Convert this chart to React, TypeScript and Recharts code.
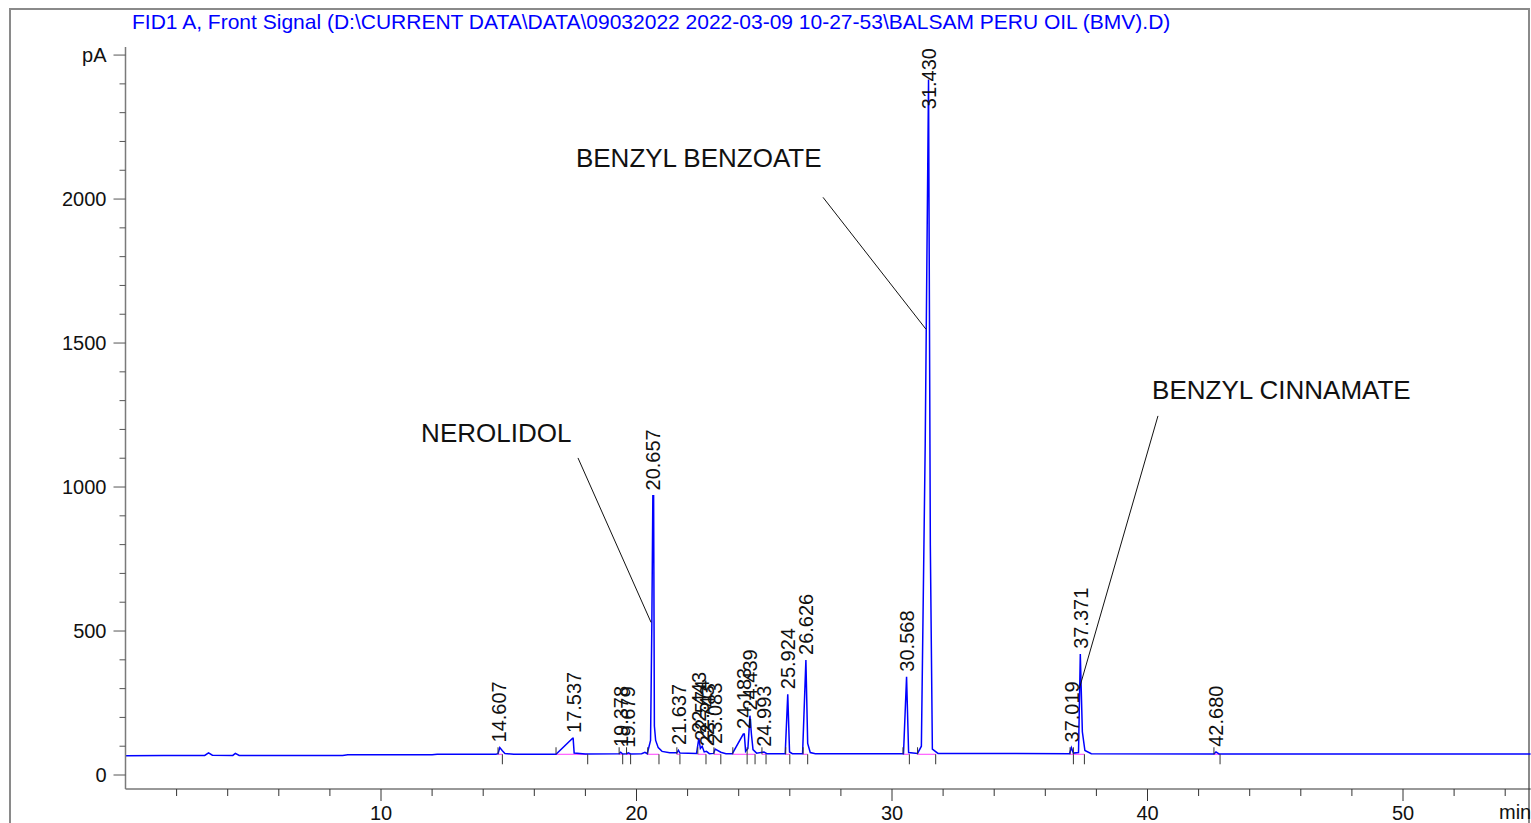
import { ComposedChart, Line, Scatter, XAxis, YAxis, ReferenceLine } from "recharts"

const FONT = '"Liberation Sans", Arial, Helvetica, sans-serif'

// FID signal: [time (min), signal (pA)]
const trace: [number, number][] = [
  [0, 67], [1.5, 68], [3.1, 68], [3.25, 77], [3.4, 69], [4.2, 68], [4.3, 75], [4.45, 68],
  [6.0, 68], [8.5, 68], [8.7, 70], [12.0, 70], [12.2, 72], [14.5, 72],
  [14.58, 74], [14.65, 95], [14.75, 84], [14.85, 75], [15.2, 72],
  [16.85, 72], [17.5, 128], [17.52, 128], [17.56, 76], [18.0, 73],
  [19.32, 74], [19.38, 79], [19.46, 73], [19.62, 74], [19.68, 77], [19.77, 73],
  [20.2, 74], [20.33, 79], [20.42, 74], [20.55, 120], [20.6, 520], [20.64, 970], [20.67, 970],
  [20.7, 170], [20.75, 120], [20.85, 95], [21.0, 82], [21.3, 77],
  [21.58, 77], [21.64, 86], [21.7, 76], [22.35, 75],
  [22.44, 128], [22.5, 92], [22.57, 100], [22.65, 80], [22.74, 82], [22.85, 74],
  [23.02, 75], [23.08, 90], [23.3, 79], [23.5, 74],
  [23.75, 74], [24.18, 142], [24.22, 142], [24.27, 82], [24.36, 92], [24.44, 206], [24.5, 140],
  [24.56, 88], [24.7, 76], [24.99, 80], [25.1, 74],
  [25.82, 74], [25.92, 280], [25.99, 80], [26.1, 74],
  [26.5, 74], [26.63, 399], [26.7, 110], [26.8, 78], [27.0, 74],
  [30.45, 74], [30.57, 341], [30.65, 78], [31.0, 75],
  [31.15, 100], [31.3, 1150], [31.43, 2415], [31.5, 800], [31.58, 90], [31.8, 75],
  [36.95, 74], [37.02, 95], [37.1, 76], [37.3, 78],
  [37.37, 420], [37.45, 150], [37.55, 85], [37.8, 74],
  [42.6, 73], [42.68, 80], [42.8, 73], [55, 73],
]

const peakTimes = [
  14.607, 17.537, 19.378, 19.679, 20.657, 21.637, 22.443, 22.574, 22.743, 23.083,
  24.183, 24.439, 24.993, 25.924, 26.626, 30.568, 31.43, 37.019, 37.371, 42.68,
]
const peakNames = [
  "14.607", "17.537", "19.378", "19.679", "20.657", "21.637", "22.443", "22.574", "22.743", "23.083",
  "24.183", "24.439", "24.993", "25.924", "26.626", "30.568", "31.430", "37.019", "37.371", "42.680",
]
const peakHeights = [95, 128, 79, 77, 970, 86, 128, 100, 82, 90, 142, 206, 80, 280, 399, 341, 2415, 95, 420, 80]

// integration marks (start / end of each peak)
const integrationStarts = [14.58, 16.85, 19.32, 19.61, 20.44, 21.58, 22.4, 23.03, 23.77, 24.33, 24.91, 25.84, 26.52, 30.43, 31.0, 36.97, 37.1, 42.6]
const integrationEnds = [14.75, 18.09, 19.46, 19.77, 20.88, 21.7, 22.72, 23.3, 24.33, 24.64, 25.07, 26.0, 26.7, 30.68, 31.71, 37.1, 37.53, 42.84]
const baselinePA = 72

const compounds = ["NEROLIDOL", "BENZYL BENZOATE", "BENZYL CINNAMATE"]
const compoundTextAt = [[11.57, 1188], [17.63, 2144], [40.18, 1337]]
const leaderFrom = [[17.71, 1101], [27.3, 2006], [40.41, 1247]]
const leaderTo = [[20.57, 530], [31.33, 1548], [37.33, 300]]

const xTicks = [2, 4, 6, 8, 10, 12, 14, 16, 18, 20, 22, 24, 26, 28, 30, 32, 34, 36, 38, 40, 42, 44, 46, 48, 50, 52, 54]
const yTicks = [0, 100, 200, 300, 400, 500, 600, 700, 800, 900, 1000, 1100, 1200, 1300, 1400, 1500, 1600, 1700, 1800, 1900, 2000, 2100, 2200, 2300, 2400, 2500]

const signalData = trace.map(([t, v]) => ({ t, v }))
const labelData = peakTimes.map((t, i) => ({ t, v: Math.min(peakHeights[i] + 18, 2312), name: peakNames[i] }))
const startData = integrationStarts.map((t) => ({ t, v: baselinePA }))
const endData = integrationEnds.map((t) => ({ t, v: baselinePA }))
const compoundData = compounds.map((name, i) => ({ t: compoundTextAt[i][0], v: compoundTextAt[i][1], name }))

function XTick({ x, y, payload }: any) {
  const major = payload.value % 10 === 0
  return (
    <g>
      <line x1={x} y1={y} x2={x} y2={y + (major ? 12 : 7)} stroke="#333" strokeWidth={1} />
      {major && (
        <text x={x} y={y + 31} textAnchor="middle" fontSize={20} fontFamily={FONT} fill="#111">
          {payload.value}
        </text>
      )}
    </g>
  )
}

function YTick({ x, y, payload }: any) {
  const major = payload.value % 500 === 0
  const label = payload.value === 2500 ? "pA" : String(payload.value)
  return (
    <g>
      <line x1={x - (major ? 12 : 6)} y1={y} x2={x} y2={y} stroke="#555" strokeWidth={1} />
      {major && (
        <text x={x - 19} y={y + 7} textAnchor="end" fontSize={20} fontFamily={FONT} fill="#111">
          {label}
        </text>
      )}
    </g>
  )
}

function PeakLabel({ cx, cy, payload }: any) {
  return (
    <text
      x={cx}
      y={cy}
      dy="0.36em"
      transform={`rotate(-90 ${cx} ${cy})`}
      fontSize={20}
      fontFamily={FONT}
      fill="#111"
    >
      {payload.name}
    </text>
  )
}

function StartMark({ cx, cy }: any) {
  return <line x1={cx} y1={cy} x2={cx} y2={cy - 7} stroke="#333" strokeWidth={1} />
}

function EndMark({ cx, cy }: any) {
  return <line x1={cx} y1={cy} x2={cx} y2={cy + 10} stroke="#333" strokeWidth={1} />
}

function CompoundText({ cx, cy, payload }: any) {
  return (
    <text x={cx} y={cy} dy="0.36em" fontSize={26} fontFamily={FONT} fill="#111">
      {payload.name}
    </text>
  )
}

export default function App() {
  return (
    <div style={{ position: "fixed", left: 0, top: 0, width: 1531, height: 823, overflow: "hidden", background: "#fff" }}>
      <div
        style={{
          position: "absolute",
          left: 9,
          top: 8,
          width: 1521,
          height: 900,
          border: "2px solid #8a8a8a",
          boxSizing: "border-box",
        }}
      />
      <div
        style={{
          position: "absolute",
          left: 132,
          top: 10,
          fontFamily: FONT,
          fontSize: 21,
          lineHeight: "24px",
          color: "#0000ff",
          whiteSpace: "nowrap",
        }}
      >
        FID1 A, Front Signal (D:\CURRENT DATA\DATA\09032022 2022-03-09 10-27-53\BALSAM PERU OIL (BMV).D)
      </div>
      <div style={{ position: "absolute", left: 0, top: 0 }}>
        <ComposedChart width={1531} height={823} margin={{ top: 47, right: 0.25, bottom: 0, left: 0.5 }}>
          <XAxis
            type="number"
            dataKey="t"
            domain={[0, 55]}
            allowDataOverflow
            ticks={xTicks}
            interval={0}
            tick={<XTick />}
            tickLine={false}
            tickSize={0}
            tickMargin={0}
            height={34}
            axisLine={{ stroke: "#333", strokeWidth: 1 }}
          />
          <YAxis
            type="number"
            dataKey="v"
            domain={[-48.6, 2528]}
            allowDataOverflow
            ticks={yTicks}
            interval={0}
            tick={<YTick />}
            tickLine={false}
            tickSize={0}
            tickMargin={0}
            width={125}
            axisLine={{ stroke: "#7a7a7a", strokeWidth: 1.5 }}
          />
          {integrationStarts.map((s, i) => (
            <ReferenceLine
              key={`base-${i}`}
              segment={[
                { x: s, y: baselinePA },
                { x: integrationEnds[i], y: baselinePA },
              ]}
              stroke="#ff3cff"
              strokeWidth={1}
            />
          ))}
          <Line
            data={signalData}
            dataKey="v"
            type="linear"
            stroke="#0000ff"
            strokeWidth={1.5}
            dot={false}
            isAnimationActive={false}
          />
          {compounds.map((c, i) => (
            <ReferenceLine
              key={c}
              segment={[
                { x: leaderFrom[i][0], y: leaderFrom[i][1] },
                { x: leaderTo[i][0], y: leaderTo[i][1] },
              ]}
              stroke="#111"
              strokeWidth={1}
            />
          ))}
          <Scatter data={startData} dataKey="v" shape={<StartMark />} isAnimationActive={false} />
          <Scatter data={endData} dataKey="v" shape={<EndMark />} isAnimationActive={false} />
          <Scatter data={labelData} dataKey="v" shape={<PeakLabel />} isAnimationActive={false} />
          <Scatter data={compoundData} dataKey="v" shape={<CompoundText />} isAnimationActive={false} />
        </ComposedChart>
      </div>
      <div
        style={{
          position: "absolute",
          left: 1499,
          top: 801,
          fontFamily: FONT,
          fontSize: 20,
          color: "#111",
        }}
      >
        min
      </div>
    </div>
  )
}
